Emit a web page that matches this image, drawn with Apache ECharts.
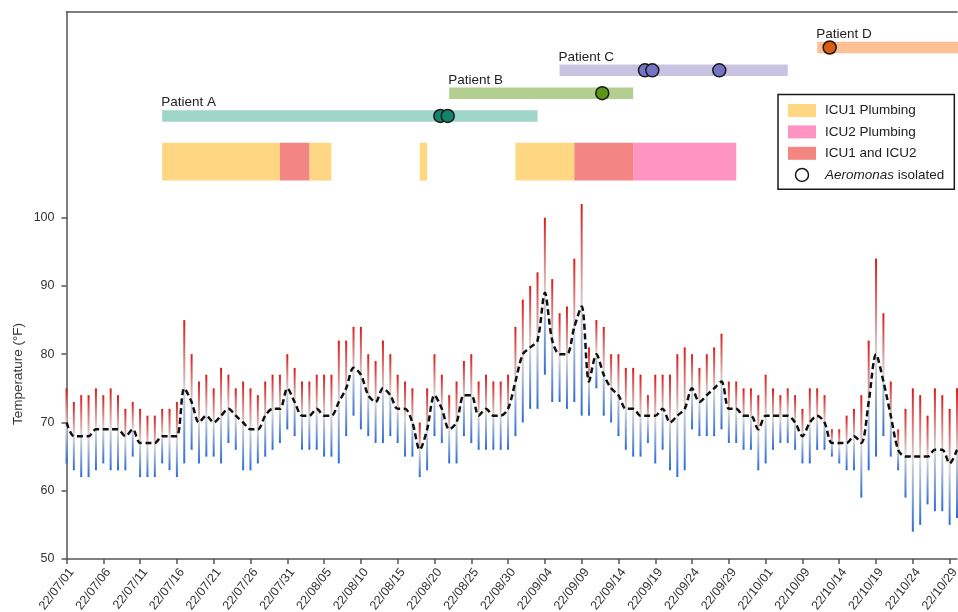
<!DOCTYPE html>
<html><head><meta charset="utf-8">
<script src="https://cdn.jsdelivr.net/npm/echarts/dist/echarts.min.js"></script>
<style>html,body{margin:0;padding:0;background:#fff}#c{width:958px;height:612px}</style>
</head><body><div id="c"></div>
<script>
// ---------- data ----------
const tMax = [75,73,74,74,75,74,75,74,72,73,72,71,71,72,72,73,85,80,76,77,75,78,77,75,76,75,74,76,77,77,80,78,76,76,77,77,77,82,82,84,84,80,79,82,80,77,76,75,70,75,80,77,74,76,79,80,76,77,76,76,77,84,88,90,92,100,91,86,87,94,102,81,85,84,80,80,78,78,77,74,77,77,77,80,81,80,78,80,81,83,76,76,75,75,74,77,75,74,75,74,72,75,75,74,69,69,71,72,74,82,94,86,76,69,72,75,74,71,75,74,72,75];
const tMin = [64,63,62,62,63,64,63,63,63,65,62,62,62,64,63,62,64,66,64,65,65,64,67,66,63,63,64,65,66,67,69,68,66,66,66,65,65,64,68,71,69,68,67,67,68,67,65,65,62,63,68,67,64,64,68,67,66,66,66,66,66,68,70,72,72,77,73,73,72,73,71,71,75,71,70,68,66,65,65,67,64,66,63,62,63,69,68,68,68,69,67,67,66,66,63,64,66,67,67,66,64,64,66,66,65,64,63,63,59,63,65,68,65,63,59,54,55,58,57,57,55,56];
const tMean = [70,68,68,68,69,69,69,69,68,69,67,67,67,68,68,68,75,73,70,71,70,71,72,71,70,69,69,71,72,72,75,73,71,71,72,71,71,73,75,78,77,74,73,75,74,72,72,70,66,69,74,72,69,70,74,74,71,72,71,71,72,76,80,81,82,89,82,80,80,84,87,76,80,77,75,74,72,72,71,71,71,72,70,71,72,75,73,74,75,76,72,72,71,71,69,71,71,71,71,70,68,70,71,70,67,67,67,68,67,73,80,76,71,66,65,65,65,65,66,66,64,66];
const tickLabels = ['22/07/01','22/07/06','22/07/11','22/07/16','22/07/21','22/07/26','22/07/31','22/08/05','22/08/10','22/08/15','22/08/20','22/08/25','22/08/30','22/09/04','22/09/09','22/09/14','22/09/19','22/09/24','22/09/29','22/10/01','22/10/09','22/10/14','22/10/19','22/10/24','22/10/29'];

const patientNames = ['Patient A','Patient B','Patient C','Patient D'];
const patientStart = [13, 52, 67, 102];
const patientEnd   = [64, 77, 98, 123];
const patientRow   = [4, 3, 2, 1];
const aeroDay      = [50.8, 51.8, 72.8, 78.6, 79.6, 88.7, 103.7];
const aeroPatient  = [0, 0, 1, 2, 2, 2, 3];

const icu1Start = [13, 33, 48, 61];
const icu1End   = [29, 36, 49, 69];
const bothStart = [29, 69];
const bothEnd   = [33, 77];
const icu2Start = [77];
const icu2End   = [91];

// ---------- styles ----------
const FONT = '"Liberation Sans", Arial, Helvetica, sans-serif';
const patientBarColors = ['#9fd4c8', '#b2cf8f', '#c9c3e2', '#fdbf94'];
const patientDotColors = ['#12846c', '#5b9514', '#7473c4', '#d95c12'];
const AX = '#555555';

const dates = tMax.map((_, i) => {
  const d = new Date(Date.UTC(2022, 6, 1 + i));
  const p = n => String(n).padStart(2, '0');
  return p(d.getUTCFullYear() % 100) + '/' + p(d.getUTCMonth() + 1) + '/' + p(d.getUTCDate());
});

const chart = echarts.init(document.getElementById('c'), null, {renderer: 'canvas'});
const L = 66.5, R = 1;

function icuSeries(name, color, starts, ends) {
  return {
    name, type: 'custom', xAxisIndex: 0, yAxisIndex: 0,
    itemStyle: {color},
    data: starts.map((s, i) => [s, ends[i]]),
    renderItem: (p, api) => {
      const a = api.coord([api.value(0), 5.17]);
      const b = api.coord([api.value(1), 6.83]);
      return {type: 'rect', shape: {x: a[0], y: a[1], width: b[0] - a[0], height: b[1] - a[1]},
        style: {fill: color}};
    }
  };
}

const option = {
  animation: false,
  textStyle: {fontFamily: FONT},
  grid: [
    {left: L, right: R, top: 12, height: 205.7, outerBoundsMode: 'none', containLabel: false},
    {left: L, right: R, top: 217.7, bottom: 612 - 559, outerBoundsMode: 'none', containLabel: false}
  ],
  xAxis: [
    {gridIndex: 0, type: 'value', min: 0, max: 121, position: 'top',
      axisLine: {show: true, onZero: false, lineStyle: {color: AX, width: 1.5}},
      axisTick: {show: false}, axisLabel: {show: false}, splitLine: {show: false}},
    {gridIndex: 1, type: 'category', data: dates, boundaryGap: false,
      axisLine: {show: true, onZero: false, lineStyle: {color: AX, width: 1.5}},
      axisTick: {show: true, interval: 4, length: 5, lineStyle: {color: AX, width: 1.5}},
      axisLabel: {interval: 4, rotate: 52, margin: 7, fontSize: 12.5, color: '#333', fontFamily: FONT,
        align: 'right', verticalAlign: 'top',
        formatter: (v, i) => tickLabels[Math.round(i / 5)] || ''},
      splitLine: {show: false}}
  ],
  yAxis: [
    {gridIndex: 0, type: 'value', inverse: true, min: -0.555, max: 8.455,
      axisLine: {show: true, onZero: false, lineStyle: {color: AX, width: 1.5}},
      axisTick: {show: false}, axisLabel: {show: false}, splitLine: {show: false}},
    {gridIndex: 1, type: 'value', min: 50, max: 100, interval: 10,
      axisLine: {show: true, onZero: false, lineStyle: {color: AX, width: 1.5}},
      axisTick: {show: true, length: 5, lineStyle: {color: AX, width: 1.5}},
      axisLabel: {fontSize: 12.5, color: '#333', margin: 12, fontFamily: FONT},
      splitLine: {show: false}}
  ],
  graphic: [{
    type: 'text', x: 18.5, y: 374, rotation: Math.PI / 2,
    style: {text: 'Temperature (°F)', textAlign: 'center', textVerticalAlign: 'middle',
      fontSize: 13.5, fill: '#333', fontFamily: FONT}
  }],
  legend: {
    orient: 'vertical', left: 778, top: 94.5,
    padding: [9, 10, 7, 10], borderColor: '#1a1a1a', borderWidth: 1.5,
    itemWidth: 28, itemHeight: 13, itemGap: 7.4, icon: 'rect', selectedMode: false,
    textStyle: {fontSize: 13.5, color: '#222', fontFamily: FONT, padding: [0, 0, 0, 4],
      rich: {i: {fontStyle: 'italic', fontSize: 13.5, color: '#222', fontFamily: FONT}}},
    formatter: n => n === 'Aeromonas isolated' ? '{i|Aeromonas} isolated' : n,
    data: [
      {name: 'ICU1 Plumbing'},
      {name: 'ICU2 Plumbing'},
      {name: 'ICU1 and ICU2'},
      {name: 'Aeromonas isolated', icon: 'circle',
        itemStyle: {color: '#ffffff', borderColor: '#1a1a1a', borderWidth: 1.5}}
    ]
  },
  series: [
    icuSeries('ICU1 Plumbing', '#ffd682', icu1Start, icu1End),
    icuSeries('ICU2 Plumbing', '#ff94c3', icu2Start, icu2End),
    icuSeries('ICU1 and ICU2', '#f38583', bothStart, bothEnd),
    {
      name: 'Patients', type: 'custom', xAxisIndex: 0, yAxisIndex: 0,
      data: patientNames.map((n, i) => [patientStart[i], patientEnd[i], patientRow[i], i]),
      renderItem: (p, api) => {
        const s = api.coord([api.value(0), api.value(2)]);
        const e = api.coord([api.value(1), api.value(2)]);
        const h = 11.5, idx = api.value(3);
        return {type: 'group', children: [
          {type: 'rect', shape: {x: s[0], y: s[1] - h / 2, width: e[0] - s[0], height: h},
            style: {fill: patientBarColors[idx]}},
          {type: 'text', x: s[0] - 1, y: s[1] - h / 2 - 0.5,
            style: {text: patientNames[idx], textAlign: 'left', textVerticalAlign: 'bottom',
              fontSize: 13.5, fill: '#222', fontFamily: FONT}}
        ]};
      }
    },
    {
      name: 'Aeromonas isolated', type: 'scatter', xAxisIndex: 0, yAxisIndex: 0,
      symbolSize: 13, z: 5,
      itemStyle: {borderColor: '#1a1a1a', borderWidth: 1.5, opacity: 1},
      data: aeroDay.map((d, k) => ({value: [d, patientRow[aeroPatient[k]]],
        itemStyle: {color: patientDotColors[aeroPatient[k]]}}))
    },
    {
      name: 'Range', type: 'custom', xAxisIndex: 1, yAxisIndex: 1,
      data: tMax.map((v, i) => [i, tMin[i], v]),
      encode: {x: 0, y: [1, 2]},
      renderItem: (p, api) => {
        const top = api.coord([api.value(0), api.value(2)]);
        const bot = api.coord([api.value(0), api.value(1)]);
        return {type: 'rect', shape: {x: top[0] - 1, y: top[1], width: 2, height: bot[1] - top[1]},
          style: {fill: new echarts.graphic.LinearGradient(0, 0, 0, 1, [
            {offset: 0, color: '#dc1a1a'}, {offset: 0.5, color: '#d8d8d8'}, {offset: 1, color: '#2e6bd6'}])}};
      }
    },
    {
      name: 'Mean', type: 'line', xAxisIndex: 1, yAxisIndex: 1, data: tMean,
      symbol: 'none', smooth: 0.3, z: 4,
      lineStyle: {color: '#111', width: 2.5, type: [6, 3.5]}
    }
  ]
};
chart.setOption(option);
</script></body></html>
